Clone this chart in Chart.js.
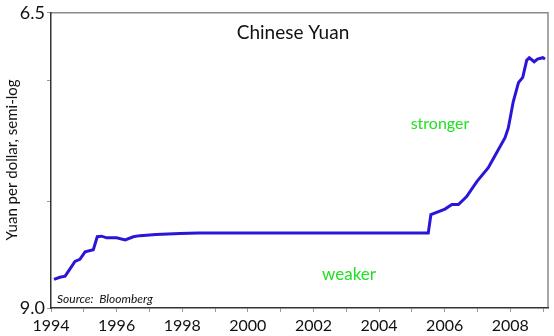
<!DOCTYPE html>
<html>
<head>
<meta charset="utf-8">
<script src="https://cdn.jsdelivr.net/npm/chart.js@4/dist/chart.umd.min.js"></script>
<style>
  html, body { margin: 0; padding: 0; background: #fff; }
  #wrap { width: 554px; height: 336px; position: relative; }
</style>
</head>
<body>
<div id="wrap"><canvas id="chart"></canvas></div>
<script>
// Chinese yuan per US dollar
const years = [1994.09, 1994.27, 1994.43, 1994.58, 1994.73, 1994.88, 1995.04, 1995.29, 1995.41, 1995.54,
  1995.70, 1996.0, 1996.26, 1996.51, 1996.71, 1997.2, 1997.93, 1998.5, 2005.50, 2005.58,
  2006.01, 2006.22, 2006.42, 2006.67, 2006.98, 2007.33, 2007.49, 2007.84, 2007.94, 2008.09,
  2008.25, 2008.38, 2008.50, 2008.58, 2008.73, 2008.83, 2008.99, 2009.06];
const yuanPerDollar = [8.72, 8.70, 8.69, 8.62, 8.55, 8.53, 8.46, 8.44, 8.32, 8.315,
  8.33, 8.33, 8.35, 8.32, 8.31, 8.30, 8.29, 8.285, 8.285, 8.12,
  8.07, 8.03, 8.03, 7.96, 7.83, 7.71, 7.63, 7.46, 7.38, 7.17,
  7.02, 6.98, 6.85, 6.83, 6.86, 6.84, 6.83, 6.84];
const yTicks = [6.5, 7, 8, 9];
const yLabels = [6.5, 9.0];

const FONT = 'Lato, "Open Sans", sans-serif';

// texts and the grey top/right frame
const decor = {
  id: 'decor',
  beforeDraw(chart) {
    const { ctx, chartArea: a } = chart;
    ctx.save();
    ctx.strokeStyle = '#8a8a8a';
    ctx.lineWidth = 1.5;
    ctx.beginPath();
    ctx.moveTo(a.left, a.top);
    ctx.lineTo(a.right, a.top);
    ctx.lineTo(a.right, a.bottom);
    ctx.stroke();
    ctx.restore();
  },
  afterDraw(chart) {
    const ctx = chart.ctx;
    ctx.save();
    ctx.textAlign = 'center';
    ctx.textBaseline = 'middle';
    ctx.fillStyle = '#111';
    ctx.font = '19px ' + FONT;
    ctx.fillText('Chinese Yuan', 293, 33);

    ctx.fillStyle = '#22e022';
    ctx.font = '16px ' + FONT;
    ctx.fillText('stronger', 440, 124);
    ctx.font = '17px ' + FONT;
    ctx.fillText('weaker', 349, 275);

    ctx.fillStyle = '#111';
    ctx.textAlign = 'left';
    ctx.font = 'italic 12px ' + FONT;
    ctx.fillText('Source:  Bloomberg', 57, 299);

    ctx.translate(12, 160);
    ctx.rotate(-Math.PI / 2);
    ctx.textAlign = 'center';
    ctx.font = '15px ' + FONT;
    ctx.fillText('Yuan per dollar, semi-log', 0, 0);
    ctx.restore();
  }
};

new Chart(document.getElementById('chart'), {
  type: 'line',
  data: {
    datasets: [{
      data: years.map((x, i) => ({ x: x, y: yuanPerDollar[i] })),
      borderColor: '#2a16d8',
      borderWidth: 3,
      pointRadius: 0,
      tension: 0,
      fill: false
    }]
  },
  options: {
    responsive: true,
    maintainAspectRatio: false,
    animation: false,
    layout: { padding: { top: 10, right: 6, left: 0, bottom: 0 } },
    plugins: { legend: { display: false }, tooltip: { enabled: false } },
    scales: {
      x: {
        type: 'linear',
        min: 1994,
        max: 2009.15,
        afterFit(s) { s.height = 28; },
        afterBuildTicks(s) {
          const t = [];
          for (let y = 1994; y <= 2009; y++) t.push({ value: y });
          s.ticks = t;
        },
        ticks: {
          autoSkip: false,
          maxRotation: 0,
          color: '#111',
          padding: 4,
          font: { family: FONT, size: 16 },
          callback: v => (v % 2 === 0 ? String(v) : '')
        },
        grid: { drawOnChartArea: false, tickLength: 4, color: '#999' },
        border: { color: '#333', width: 1.5 }
      },
      y: {
        type: 'logarithmic',
        reverse: true,
        min: 6.5,
        max: 9.0,
        afterFit(s) { s.width = 51; },
        afterBuildTicks(s) { s.ticks = yTicks.map(v => ({ value: v })); },
        ticks: {
          color: '#111',
          padding: 2,
          font: { family: FONT, size: 18 },
          callback: v => (yLabels.includes(v) ? v.toFixed(1) : '')
        },
        grid: { drawOnChartArea: false, tickLength: 4, color: '#999' },
        border: { color: '#333', width: 1.5 }
      }
    }
  },
  plugins: [decor]
});
</script>
</body>
</html>
